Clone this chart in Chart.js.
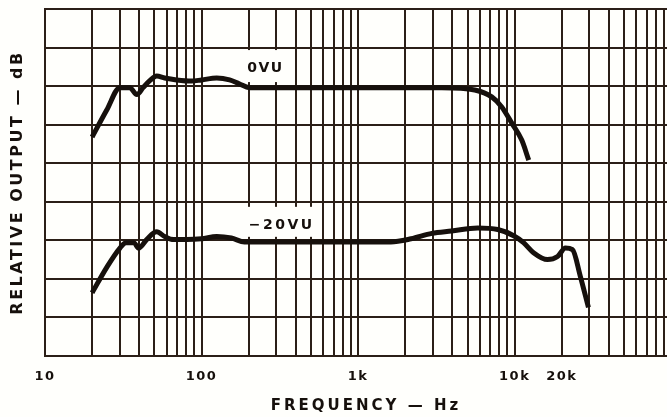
<!DOCTYPE html>
<html>
<head>
<meta charset="utf-8">
<script src="https://cdn.jsdelivr.net/npm/chart.js@4"></script>
<style>
  html, body { margin: 0; padding: 0; background: #fffffc; }
  #wrap { width: 667px; height: 417px; }
</style>
</head>
<body>
<div id="wrap"><canvas id="resp" width="667" height="417"></canvas></div>
<script>
// --- data ---
// 0VU curve (Hz / dB)
const freqs0VU = [20, 24.8, 30.1, 34.8, 38.6, 42.3, 46.7, 51.7, 58.1, 69.3, 86.4, 100, 125, 151, 174, 202,
  433, 1000, 3430, 5560, 7140, 8270, 9590, 11100, 12300];
const db0VU = [-6.6, -3.1, -0.2, -0.2, -1.1, -0.2, 0.7, 1.3, 1.05, 0.8, 0.65, 0.8, 1.05, 0.8, 0.3, -0.2,
  -0.2, -0.2, -0.2, -0.5, -1.4, -2.7, -4.8, -7.0, -9.6];

// -20VU curve
const freqs20VU = [20, 24.8, 30.1, 32.9, 36.9, 39.7, 44.6, 51.7, 58.1, 66.3, 80.3, 100, 125, 155, 188,
  433, 1620, 2180, 2960, 3950, 5800, 7800, 9860, 11400, 13200, 16200, 18800, 21100, 23400, 26300, 29600];
const db20VU = [-26.8, -23.5, -21.0, -20.3, -20.3, -21.0, -19.9, -18.9, -19.5, -19.9, -19.9, -19.8, -19.5, -19.7, -20.2,
  -20.2, -20.2, -19.8, -19.1, -18.8, -18.4, -18.6, -19.4, -20.3, -21.6, -22.5, -22.1, -21.0, -21.2, -24.7, -28.7];

// axis ticks
const tickFreqs = [10, 100, 1000, 10000, 20000];
const tickLabels = ['10', '100', '1k', '10k', '20k'];
const decades = [10, 100, 1000, 10000];
const steps = [1, 2, 3, 4, 5, 6, 7, 8, 9];

// grid lines: every 1..9 step of each decade
const gridFreqs = [];
decades.forEach(d => steps.forEach(s => gridFreqs.push(d * s)));

const INK = '#16100c';
const GRID = '#2b1f17';

// curve labels (position in data units, box in px)
const curveLabels = [
    { text: '0VU', freq: 256, db: 2.6, boxW: 50, boxH: 32, dy: 2, spacing: 1.5 },
    { text: '\u221220VU', freq: 325, db: -17.6, boxW: 80, boxH: 30, dy: 4, spacing: 2.5 }
];

// 背景 + ラベル + 軸タイトル
const paperPlugin = {
    id: 'paper',
    beforeDraw(chart) {
        const ctx = chart.ctx;
        ctx.save();
        ctx.fillStyle = '#fffffc';
        ctx.fillRect(0, 0, chart.width, chart.height);
        ctx.restore();
        ctx.letterSpacing = '1.5px';
    },
    beforeDatasetsDraw(chart) {
        const ctx = chart.ctx;
        const xs = chart.scales.x, ys = chart.scales.y;
        ctx.save();
        curveLabels.forEach(l => {
            const cx = xs.getPixelForValue(l.freq);
            const cy = ys.getPixelForValue(l.db);
            ctx.fillStyle = '#fffffc';
            ctx.fillRect(cx - l.boxW / 2, cy - l.boxH / 2, l.boxW, l.boxH);
            ctx.letterSpacing = l.spacing + 'px';
            ctx.fillStyle = INK;
            ctx.font = 'bold 14px "DejaVu Sans"';
            ctx.textAlign = 'center';
            ctx.textBaseline = 'middle';
            ctx.fillText(l.text, cx, cy + l.dy);
        });
        ctx.restore();
    },
    afterDraw(chart) {
        const ctx = chart.ctx;
        const a = chart.chartArea;
        ctx.save();
        ctx.fillStyle = INK;
        ctx.textAlign = 'center';
        ctx.textBaseline = 'middle';
        ctx.letterSpacing = '3px';
        ctx.font = 'bold 15px "DejaVu Sans"';
        ctx.fillText('FREQUENCY \u2014 Hz', 366, 406);
        ctx.translate(18, (a.top + a.bottom) / 2);
        ctx.rotate(-Math.PI / 2);
        ctx.letterSpacing = '2.5px';
        ctx.font = 'bold 16px "DejaVu Sans"';
        ctx.fillText('RELATIVE OUTPUT \u2014 dB', 0, 0);
        ctx.restore();
    }
};

function toPoints(fs, ds) {
    return fs.map((f, i) => ({ x: f, y: ds[i] }));
}

const ctx = document.getElementById('resp').getContext('2d');
new Chart(ctx, {
    type: 'line',
    data: {
        datasets: [
            {
                label: '0VU',
                data: toPoints(freqs0VU, db0VU),
                borderColor: INK,
                borderWidth: 5,
                pointRadius: 0,
                cubicInterpolationMode: 'monotone'
            },
            {
                label: '-20VU',
                data: toPoints(freqs20VU, db20VU),
                borderColor: INK,
                borderWidth: 5,
                pointRadius: 0,
                cubicInterpolationMode: 'monotone'
            }
        ]
    },
    options: {
        responsive: false,
        animation: false,
        layout: { padding: { top: 9, right: 0, left: 0, bottom: 0 } },
        plugins: {
            legend: { display: false },
            tooltip: { enabled: false }
        },
        scales: {
            x: {
                type: 'logarithmic',
                min: 10,
                max: 94000,
                afterBuildTicks: s => { s.ticks = gridFreqs.map(v => ({ value: v })); },
                afterFit: s => {
                    s.height = 61;
                    s.paddingLeft = 0;
                    s.paddingRight = 0;
                },
                grid: { color: GRID, lineWidth: 2, drawTicks: false },
                border: { color: GRID, width: 2 },
                ticks: {
                    autoSkip: false,
                    maxRotation: 0,
                    padding: 13,
                    color: INK,
                    font: { family: '"DejaVu Sans"', size: 13, weight: 'bold' },
                    callback: v => {
                        const i = tickFreqs.indexOf(v);
                        return i >= 0 ? tickLabels[i] : '';
                    }
                }
            },
            y: {
                min: -35,
                max: 10,
                afterFit: s => { s.width = 45; },
                grid: { color: GRID, lineWidth: 2, drawTicks: false },
                border: { color: GRID, width: 2 },
                ticks: { stepSize: 5, display: false }
            }
        }
    },
    plugins: [paperPlugin]
});
</script>
</body>
</html>
